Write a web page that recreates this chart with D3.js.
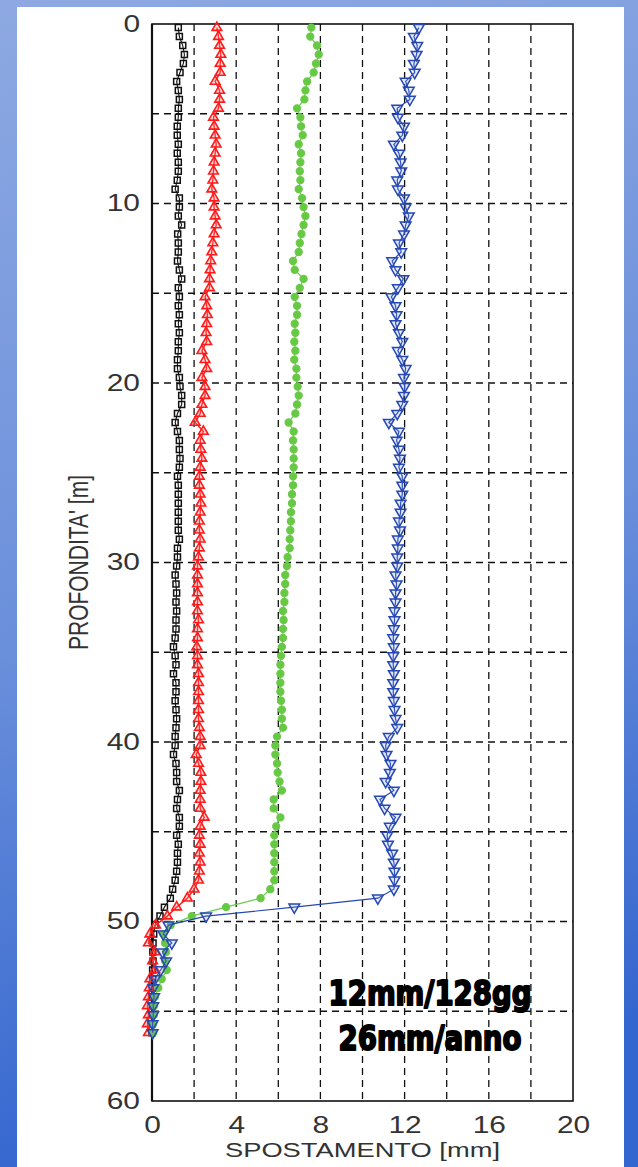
<!DOCTYPE html>
<html>
<head>
<meta charset="utf-8">
<script src="https://cdn.jsdelivr.net/npm/d3@7"></script>
<style>
  body { margin: 0; padding: 0; }
  svg { display: block; }
</style>
</head>
<body>
<svg id="chart"></svg>
<script>
// depth of each reading [m], one every 0.5 m
var depths = d3.range(0, 113).map(k => 0.2 + 0.5 * k);

// displacement readings [mm], top to bottom
var serieNera = [1.25,1.30,1.46,1.54,1.49,1.33,1.17,1.25,1.30,1.25,1.25,1.20,1.20,1.25,1.20,1.25,1.25,1.20,1.10,1.30,
  1.30,1.25,1.41,1.22,1.25,1.25,1.21,1.30,1.41,1.25,1.30,1.25,1.30,1.25,1.30,1.25,1.25,1.21,1.21,1.30,
  1.33,1.41,1.41,1.21,1.10,1.21,1.30,1.30,1.33,1.30,1.21,1.25,1.25,1.25,1.25,1.25,1.25,1.30,1.21,1.21,
  1.17,1.10,1.14,1.17,1.14,1.17,1.14,1.14,1.10,1.02,1.10,1.14,1.02,1.14,1.14,1.10,1.14,1.17,1.14,1.10,
  1.10,1.02,1.14,1.17,1.17,1.30,1.21,1.17,1.30,1.30,1.17,1.25,1.21,1.21,1.17,1.10,0.98,0.87,0.59,0.38,
  0.14,0.08,0.05,0.04,0.05,0.03,0.03,0.02,0.02,0.02,0.01,0.01,0.00];

var serieRossa = [3.08,3.16,3.21,3.27,3.24,3.24,3.00,3.21,3.21,3.16,2.92,2.95,3.00,3.05,3.00,2.95,2.92,2.89,2.84,2.95,
  2.95,3.00,3.05,2.95,2.89,2.84,2.79,2.76,2.73,2.73,2.52,2.60,2.63,2.60,2.57,2.60,2.37,2.52,2.60,2.37,
  2.52,2.52,2.37,2.29,2.05,2.44,2.29,2.32,2.37,2.29,2.25,2.25,2.29,2.32,2.29,2.25,2.25,2.29,2.25,2.21,
  2.16,2.16,2.16,2.16,2.16,2.16,2.21,2.16,2.16,2.13,2.16,2.16,2.21,2.21,2.21,2.21,2.21,2.21,2.25,2.29,
  2.29,2.10,2.21,2.32,2.32,2.29,2.29,2.29,2.48,2.29,2.25,2.29,2.25,2.29,2.25,2.21,2.00,1.68,1.17,0.73,
  0.17,-0.10,-0.17,0.14,0.03,0.14,-0.10,-0.13,-0.17,-0.22,-0.17,-0.22,-0.17];

var serieVerde = [7.57,7.52,7.84,7.92,7.79,7.68,7.37,7.29,7.24,6.89,7.05,7.08,7.16,6.97,7.08,7.05,7.02,7.05,6.97,7.13,
  7.20,7.29,7.20,7.10,7.02,6.97,6.70,6.78,7.20,7.02,6.78,6.89,6.89,6.78,6.81,6.76,6.81,6.76,6.86,6.86,
  6.92,6.97,6.89,6.81,6.49,6.73,6.70,6.73,6.73,6.73,6.70,6.70,6.65,6.65,6.60,6.60,6.57,6.54,6.54,6.44,
  6.41,6.33,6.33,6.29,6.29,6.22,6.25,6.22,6.22,6.17,6.13,6.10,6.10,6.10,6.10,6.13,6.17,6.17,6.22,5.94,
  5.86,5.86,5.94,5.97,6.06,6.17,5.78,5.78,6.10,5.90,5.81,5.81,5.81,5.81,5.81,5.81,5.62,5.16,3.52,1.89,
  0.89,0.54,0.62,0.67,0.62,0.70,0.46,0.30,0.14,0.10,0.10,0.06,0.06];

var serieBlu = [12.68,12.44,12.60,12.57,12.44,12.48,12.05,12.20,12.25,11.65,11.68,11.97,11.89,11.49,11.73,11.81,11.84,11.65,11.68,11.97,
  12.05,12.20,12.05,11.97,11.73,11.84,11.41,11.57,11.94,11.68,11.37,11.57,11.62,11.57,11.73,11.89,11.68,11.89,12.05,11.97,
  12.00,11.97,11.89,11.65,11.25,11.73,11.62,11.73,11.78,11.73,11.89,11.89,11.89,11.81,11.81,11.73,11.78,11.68,11.68,11.65,
  11.65,11.57,11.62,11.57,11.57,11.52,11.52,11.49,11.46,11.49,11.46,11.46,11.49,11.46,11.46,11.49,11.52,11.57,11.65,11.25,
  11.10,11.14,11.33,11.30,11.10,11.49,10.83,11.05,11.57,11.30,11.17,11.21,11.41,11.49,11.52,11.52,11.49,10.73,6.76,2.57,
  0.78,0.54,0.94,0.50,0.67,0.41,0.14,0.06,0.10,0.06,0.06,0.03,0.03];

var xTicks = [0, 4, 8, 12, 16, 20];
var yTicks = [0, 10, 20, 30, 40, 50, 60];
var xGrid = [2, 4, 6, 8, 10, 12, 14, 16, 18];
var yGrid = [5, 10, 15, 20, 25, 30, 35, 40, 45, 50, 55];
var note = ["12mm/128gg", "26mm/anno"];

var width = 638, height = 1167;
var padding = { top: 24, right: 65, bottom: 66, left: 152 };
var stretch = 1.3; // the picture is stretched sideways

var svg = d3.select("#chart").attr("width", width).attr("height", height);

var defs = svg.append("defs");
var grad = defs.append("linearGradient")
    .attr("id", "bg").attr("x1", 0).attr("y1", 0).attr("x2", 0.15).attr("y2", 1);
grad.append("stop").attr("offset", "0%").attr("stop-color", "#8ea9e2");
grad.append("stop").attr("offset", "55%").attr("stop-color", "#6a8fdb");
grad.append("stop").attr("offset", "100%").attr("stop-color", "#3466cf");

svg.append("rect").attr("width", width).attr("height", height).attr("fill", "url(#bg)");
svg.append("rect").attr("x", 17).attr("y", 7).attr("width", 607).attr("height", height - 7).attr("fill", "#fff");

var x = d3.scaleLinear().domain([0, 20]).range([padding.left, width - padding.right]);
var y = d3.scaleLinear().domain([0, 60]).range([padding.top, height - padding.bottom]);

// grid
var grid = svg.append("g")
    .attr("stroke", "#111").attr("stroke-width", 1.3).attr("stroke-dasharray", "7,5");
grid.selectAll("line.v").data(xGrid).join("line")
    .attr("x1", d => x(d)).attr("x2", d => x(d))
    .attr("y1", y(0)).attr("y2", y(60));
grid.selectAll("line.h").data(yGrid).join("line")
    .attr("x1", x(0)).attr("x2", x(20))
    .attr("y1", d => y(d)).attr("y2", d => y(d));

// axes
function stretchText(sel){
    sel.each(function(){
        var w = this.getComputedTextLength();
        d3.select(this).attr("textLength", w * stretch).attr("lengthAdjust", "spacingAndGlyphs");
    });
}

var yAxis = svg.append("g")
    .attr("transform", "translate(" + x(0) + ",0)")
    .call(d3.axisLeft(y).tickValues(yTicks).tickSize(0).tickPadding(12));
var xAxis = svg.append("g")
    .attr("transform", "translate(0," + y(60) + ")")
    .call(d3.axisBottom(x).tickValues(xTicks).tickSize(0).tickPadding(16));
[yAxis, xAxis].forEach(function(a){
    a.select(".domain").remove();
    a.selectAll("text")
        .attr("font-family", "'Liberation Sans', Arial, sans-serif")
        .attr("font-size", 23)
        .attr("fill", "#333")
        .call(stretchText);
});

svg.append("rect")
    .attr("x", x(0)).attr("y", y(0))
    .attr("width", x(20) - x(0)).attr("height", y(60) - y(0))
    .attr("fill", "none").attr("stroke", "#111").attr("stroke-width", 1.6);
svg.append("line")
    .attr("x1", x(0)).attr("x2", x(0)).attr("y1", y(0)).attr("y2", y(60))
    .attr("stroke", "#111").attr("stroke-width", 2.2);

// series
var series = [
    { values: serieNera, color: "#111111", fill: "none", symbol: d3.symbolSquare, size: 36, rot: 0, lw: 1.1, mw: 1.5 },
    { values: serieRossa, color: "#ff1a1a", fill: "rgba(255,120,120,0.25)", symbol: d3.symbolTriangle, size: 40, rot: 0, lw: 1.4, mw: 1.6 },
    { values: serieVerde, color: "#6cc94a", fill: "#66c943", symbol: d3.symbolCircle, size: 40, rot: 0, lw: 1.2, mw: 1.2 },
    { values: serieBlu, color: "#2548b2", fill: "rgba(120,140,220,0.2)", symbol: d3.symbolTriangle, size: 50, rot: 180, lw: 1.2, mw: 1.5 }
];

var line = d3.line().x(d => x(d[0])).y(d => y(d[1]));

series.forEach(function(s){
    var pts = s.values.map((v, i) => [v, depths[i]]);
    var g = svg.append("g");
    g.append("path")
        .datum(pts)
        .attr("d", line)
        .attr("fill", "none")
        .attr("stroke", s.color)
        .attr("stroke-width", s.lw);
    g.selectAll("path.m").data(pts).join("path")
        .attr("class", "m")
        .attr("d", d3.symbol().type(s.symbol).size(s.size))
        .attr("transform", d => "translate(" + x(d[0]) + "," + y(d[1]) + ") rotate(" + s.rot + ")")
        .attr("fill", s.fill)
        .attr("stroke", s.color)
        .attr("stroke-width", s.mw);
});

// labels
svg.append("text")
    .attr("transform", "translate(88," + ((y(0) + y(60)) / 2) + ") rotate(-90) scale(1," + stretch + ")")
    .attr("text-anchor", "middle")
    .attr("font-family", "'Liberation Sans', Arial, sans-serif")
    .attr("font-size", 21)
    .attr("fill", "#333")
    .text("PROFONDITA' [m]");

svg.append("text")
    .attr("x", (x(0) + x(20)) / 2)
    .attr("y", 1157)
    .attr("text-anchor", "middle")
    .attr("font-family", "'Liberation Sans', Arial, sans-serif")
    .attr("font-size", 21)
    .attr("fill", "#333")
    .text("SPOSTAMENTO [mm]")
    .call(stretchText);

svg.selectAll("text.note").data(note).join("text")
    .attr("class", "note")
    .attr("x", 430)
    .attr("y", (d, i) => 1005 + i * 45)
    .attr("text-anchor", "middle")
    .attr("font-family", "'DejaVu Sans', sans-serif")
    .attr("font-weight", "bold")
    .attr("font-size", 34)
    .attr("fill", "#000")
    .attr("stroke", "#000")
    .attr("stroke-width", 2)
    .attr("stroke-linejoin", "round")
    .attr("textLength", (d, i) => i === 0 ? 203 : 183)
    .attr("lengthAdjust", "spacingAndGlyphs")
    .text(d => d);
</script>
</body>
</html>
